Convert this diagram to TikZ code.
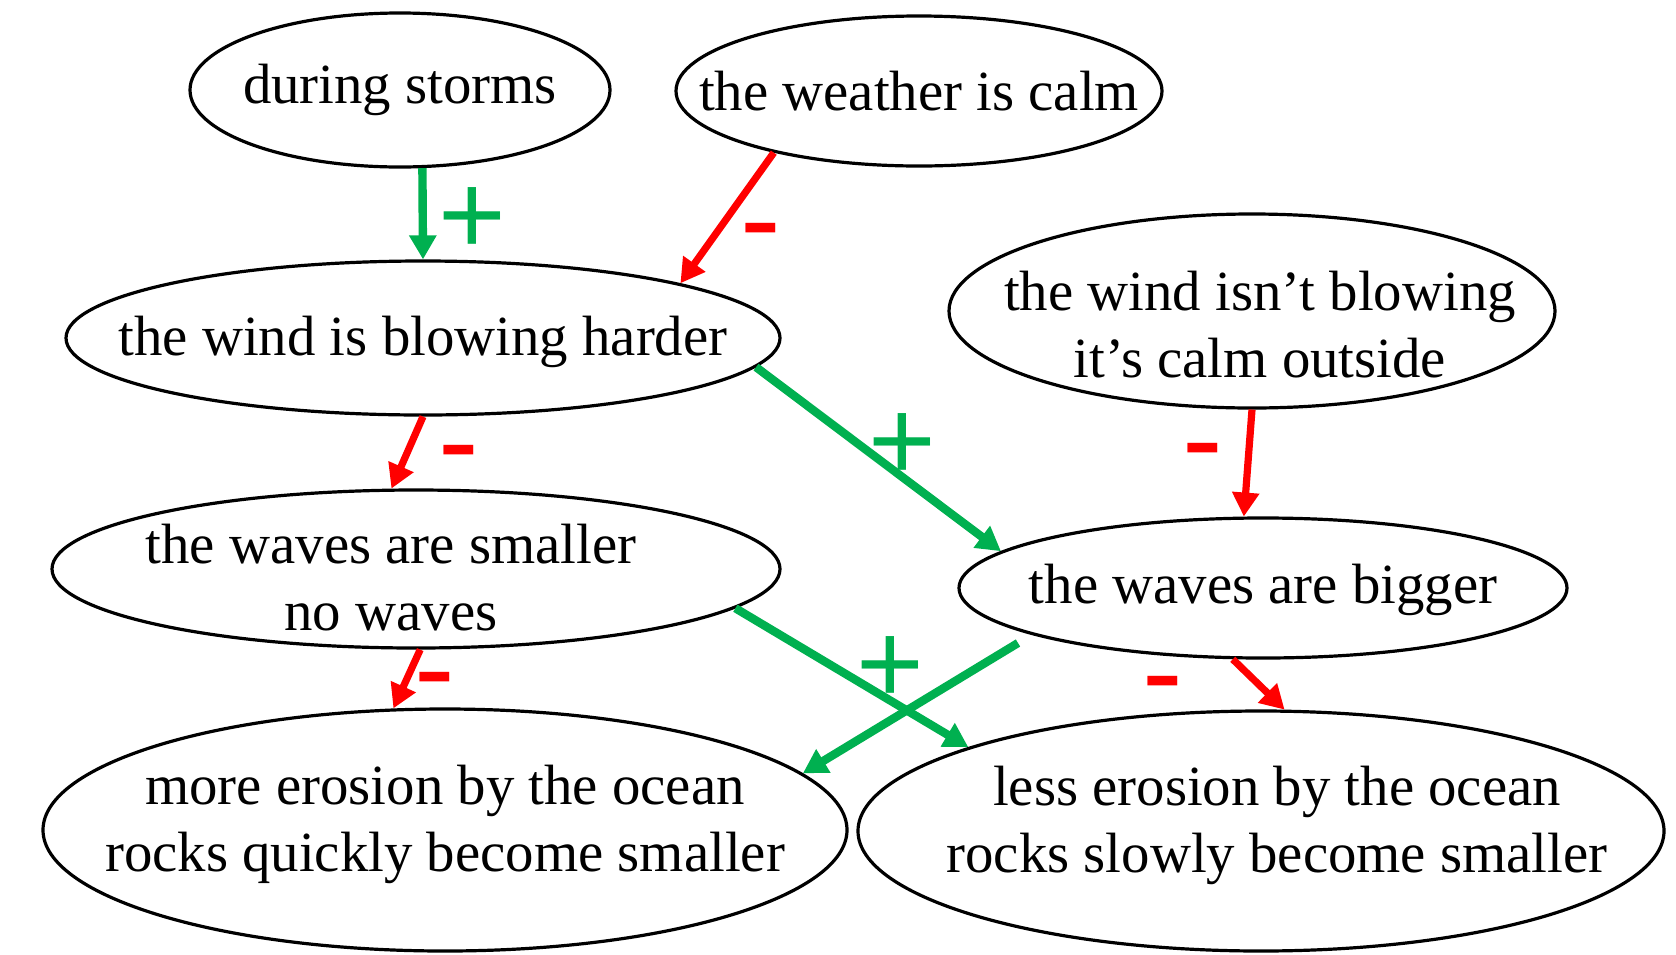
\documentclass[tikz,border=0pt]{standalone}
\usepackage{fontspec}
\setmainfont{Liberation Serif}
\newfontfamily\signfont{Liberation Sans}
\usetikzlibrary{arrows.meta, shapes.geometric}
\definecolor{linkGreen}{HTML}{00B050}
\definecolor{linkRed}{HTML}{FF0000}

\begin{document}
\begin{tikzpicture}[
  x=0.5pt, y=-0.5pt,
  bubble/.style={ellipse, draw=black, line width=1.6pt, inner sep=0pt},
  txt/.style={align=center, inner sep=0pt, font=\fontsize{28.4}{33.5}\selectfont},
  plus/.style={text=linkGreen, inner sep=0pt, yshift=-3.5pt,
               font=\signfont\fontsize{58}{58}\selectfont},
  minus/.style={text=linkRed, inner sep=0pt, yshift=-6.5pt,
                font=\signfont\fontsize{61}{61}\selectfont},
  pos link/.style={-{Triangle[length=12pt, width=13pt]}, line width=4.2pt, draw=linkGreen},
  neg link/.style={-{Triangle[length=12pt, width=13pt]}, line width=3.6pt, draw=linkRed}
]
\useasboundingbox (0,0) rectangle (1676,954);

% causes
\node[bubble, minimum width=210pt, minimum height=77pt,
  label={[txt]center:during storms}] (storms) at (400,90) {};
\node[bubble, minimum width=243pt, minimum height=75pt,
  label={[txt]center:the weather is calm}] (calm) at (919,91) {};

% wind
\node[bubble, minimum width=357pt, minimum height=77pt,
  label={[txt, yshift=-2pt]center:the wind is blowing harder}] (harder) at (423,338) {};
\node[bubble, minimum width=303pt, minimum height=97pt,
  label={[txt, xshift=4pt, yshift=-7pt]center:{the wind isn’t blowing\\it’s calm outside}}] (calmout) at (1252,311) {};

% waves
\node[bubble, minimum width=364pt, minimum height=79pt,
  label={[txt, xshift=-12.5pt, yshift=-4.5pt]center:{the waves are smaller\\no waves}}] (smaller) at (416,569) {};
\node[bubble, minimum width=304pt, minimum height=70pt,
  label={[txt, yshift=-1pt]center:the waves are bigger}] (bigger) at (1263,588) {};

% erosion
\node[bubble, minimum width=402pt, minimum height=121pt,
  label={[txt, yshift=3pt]center:{more erosion by the ocean\\rocks quickly become smaller}}] (moreero) at (445,830) {};
\node[bubble, minimum width=403pt, minimum height=120pt,
  label={[txt, xshift=8pt, yshift=3pt]center:{less erosion by the ocean\\rocks slowly become smaller}}] (lessero) at (1261,831) {};

% links
\draw[pos link] (storms.-74) -- node[plus, xshift=25pt] {+} (harder.north);
\draw[neg link] (calm.203) -- node[minus, xshift=17pt, yshift=-5.5pt] {-} (harder.12.6);
\draw[neg link] (harder.south) -- node[minus, xshift=26pt, yshift=1pt] {-} (smaller.107.4);
\draw[pos link] (harder.-5.3) -- node[plus, xshift=12pt, yshift=9.5pt] {+} (bigger.172);
\draw[neg link] (calmout.south) -- node[minus, xshift=-22.5pt, yshift=7pt] {-} (bigger.105.4);
\draw[pos link] (smaller.-7.4) -- node[plus, xshift=19.5pt, yshift=7.5pt] {+} (lessero.164.9);
\draw[pos link] ([xshift=-122.5pt, yshift=-27.5pt]bigger.center) -- (moreero.9.2);
\draw[neg link] (bigger.247.4) -- node[minus, xshift=-48pt, yshift=1.5pt] {-} (lessero.79.9);
\draw[neg link] (smaller.-87) -- node[minus, xshift=14pt, yshift=0.5pt] {-} (moreero.113.8);
\end{tikzpicture}
\end{document}
